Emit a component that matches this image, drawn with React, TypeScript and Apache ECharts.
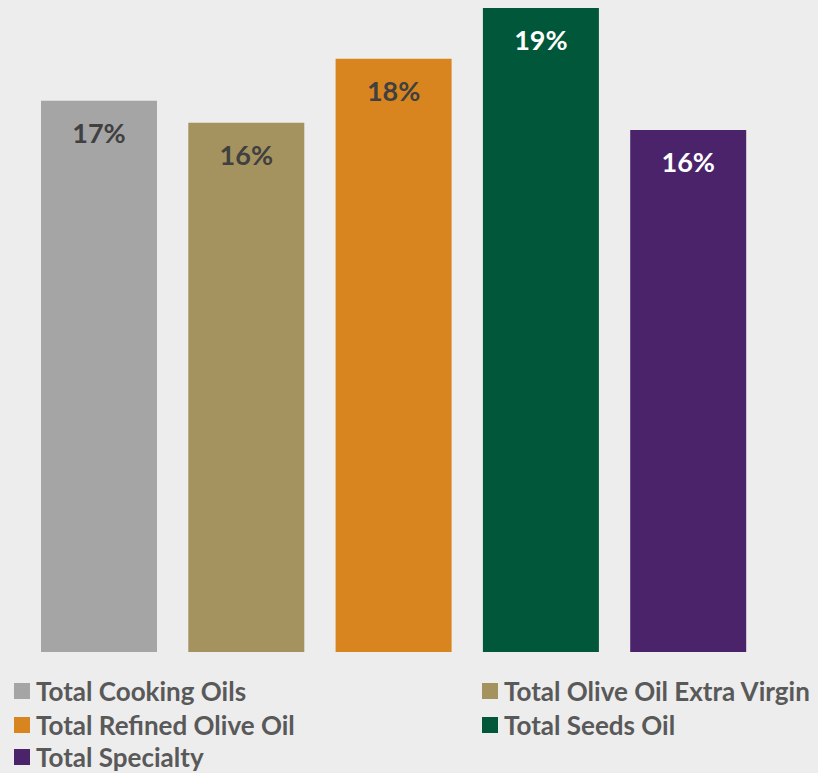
import React, { useEffect, useRef } from "react";
import * as echarts from "echarts";

const categories = [
  "Total Cooking Oils",
  "Total Olive Oil Extra Virgin",
  "Total Refined Olive Oil",
  "Total Seeds Oil",
  "Total Specialty",
];
const values = [16.78, 16.23, 17.83, 19.1, 16.05];
const colors = ["#a5a5a5", "#a4935f", "#d9851f", "#00573a", "#4b236b"];
const labelColors = ["#404040", "#404040", "#404040", "#ffffff", "#ffffff"];

// legend placement: [left, top] for each category
const legendSlots: [number, number][] = [
  [14, 678],
  [482, 678],
  [14, 712],
  [482, 712],
  [14, 744],
];

const FONT = 'Lato, "Open Sans", sans-serif';

export default function App() {
  const ref = useRef<HTMLDivElement>(null);
  useEffect(() => {
    if (!ref.current) return;
    const chart = echarts.init(ref.current, null, { renderer: "svg" });
    const series = categories.map((name, i) => ({
      name,
      type: "bar",
      barWidth: 116,
      barGap: "-100%",
      data: categories.map((_, j) => (j === i ? values[i] : "-")),
      itemStyle: { color: colors[i] },
      label: {
        show: true,
        position: "insideTop",
        distance: 18,
        color: labelColors[i],
        fontFamily: FONT,
        fontWeight: "bold",
        fontSize: 27,
        lineHeight: 27,
        formatter: (p: any) => Math.round(p.value) + "%",
      },
    }));
    const legends = categories.map((name, i) => ({
      data: [name],
      left: legendSlots[i][0],
      top: legendSlots[i][1],
      padding: 0,
      itemWidth: 16,
      itemHeight: 16,
      itemGap: 0,
      icon: "rect",
      selectedMode: false,
      textStyle: {
        color: "#595959",
        fontFamily: FONT,
        fontWeight: "bold",
        fontSize: 26,
        lineHeight: 25,
        padding: [0, 0, 0, 1],
      },
    }));
    chart.setOption({
      animation: false,
      backgroundColor: "#ededed",
      grid: { left: 25.35, right: 56.15, top: 4, bottom: 121 },
      xAxis: {
        type: "category",
        data: categories,
        show: false,
      },
      yAxis: { type: "value", min: 3, max: 19.2, show: false },
      legend: legends,
      series,
    });
    return () => chart.dispose();
  }, []);
  return (
    <div
      ref={ref}
      style={{ position: "fixed", left: 0, top: 0, width: 818, height: 773 }}
    />
  );
}
